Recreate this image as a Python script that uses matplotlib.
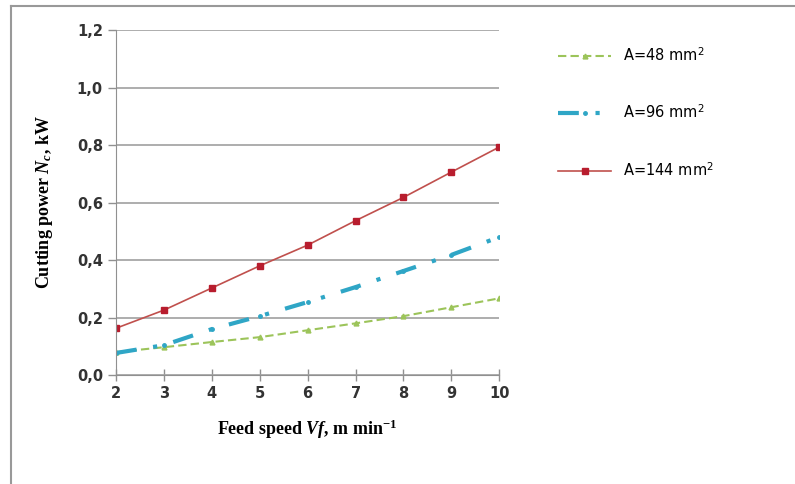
import matplotlib.pyplot as plt
from matplotlib.lines import Line2D

plt.rcParams['mathtext.fontset'] = 'custom'
plt.rcParams['mathtext.rm'] = 'DejaVu Sans'
plt.rcParams['mathtext.it'] = 'Liberation Serif:italic:bold'
plt.rcParams['mathtext.bf'] = 'Liberation Serif:bold'

# feed speed, m/min
feed_speed = [2, 3, 4, 5, 6, 7, 8, 9, 10]

# cutting power, kW
power_48 = [0.08, 0.097, 0.115, 0.132, 0.156, 0.18, 0.205, 0.236, 0.267]
power_96 = [0.077, 0.104, 0.16, 0.205, 0.254, 0.306, 0.362, 0.418, 0.48]
power_144 = [0.163, 0.226, 0.303, 0.38, 0.452, 0.537, 0.618, 0.706, 0.793]

labels = ['A=48 mm$^2$', 'A=96 mm$^2$', 'A=144 mm$^2$']
y_ticks = [0.0, 0.2, 0.4, 0.6, 0.8, 1.0, 1.2]
y_tick_labels = ['0,0', '0,2', '0,4', '0,6', '0,8', '1,0', '1,2']

fig = plt.figure(figsize=(7.95, 4.84), dpi=100)
ax = fig.add_axes([0.146, 0.225, 0.482, 0.713])

ax.plot(feed_speed, power_48, color='#9cc45a', lw=1.5, linestyle=(0, (4, 2)),
        marker='^', markersize=3.5, label=labels[0])
ax.plot(feed_speed, power_96, color='#2fa6c6', lw=3, linestyle=(0, (5, 4, 1, 4)),
        marker='o', markersize=2.5, label=labels[1])
ax.plot(feed_speed, power_144, color='#c0504d', lw=1.2,
        marker='s', markersize=5, markerfacecolor='#b81d2e', markeredgecolor='#b81d2e',
        label=labels[2])

ax.set_xlim(2, 10)
ax.set_ylim(0, 1.2)
ax.set_xticks(feed_speed)
ax.set_yticks(y_ticks)
ax.set_yticklabels(y_tick_labels)
ax.grid(axis='y', color='#a0a0a0', lw=1.2)
ax.set_axisbelow(True)
for s in ['top', 'right']:
    ax.spines[s].set_visible(False)
for s in ['left', 'bottom']:
    ax.spines[s].set_color('#909090')
ax.tick_params(axis='both', colors='#909090', length=6, width=1, direction='out',
               labelcolor='#333333', labelsize=10.5)
ax.tick_params(axis='x', direction='inout', length=8)
for t in ax.get_xticklabels() + ax.get_yticklabels():
    t.set_fontweight('bold')

serif = {'family': 'Liberation Serif', 'weight': 'bold', 'size': 13}
ax.set_ylabel('Cutting power $\\mathit{N_c}$, kW', fontdict=serif, labelpad=16)
ax.set_xlabel('Feed speed $\\mathit{Vf}$, m min$^{\\mathbf{-1}}$', fontdict=serif, labelpad=12)

leg = ax.legend(loc='upper left', bbox_to_anchor=(1.12, 0.99), frameon=False,
                handlelength=3.6, labelspacing=2.75, fontsize=10.5)

# picture frame
fig.add_artist(Line2D([0.014, 0.014], [0.0, 0.988], color='#999999', lw=1.5))
fig.add_artist(Line2D([0.014, 1.0], [0.988, 0.988], color='#999999', lw=1.5))

fig.savefig('out.png', dpi=100)
